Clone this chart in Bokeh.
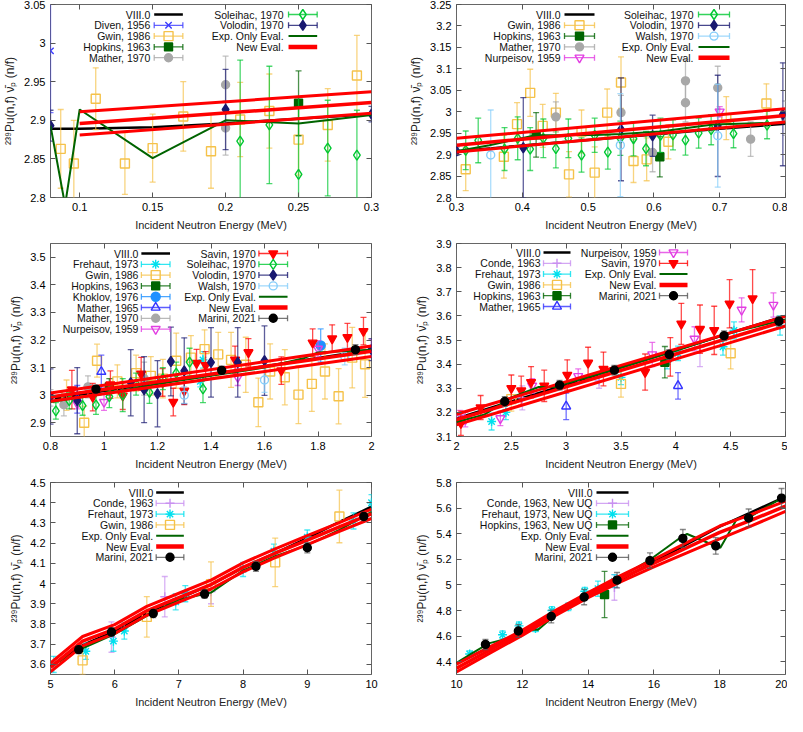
from bokeh.plotting import figure
from bokeh.models import Range1d, FixedTicker, LinearAxis, NumeralTickFormatter
from bokeh.core.properties import value
from bokeh.layouts import gridplot
from bokeh.embed import file_html
from bokeh.resources import INLINE

# ====================== DATA ======================
# ---- Panel 1: 0.08 - 0.3 MeV
p1_xticks = [0.1, 0.15, 0.2, 0.25, 0.3]
p1_xlabels = ["0.1", "0.15", "0.2", "0.25", "0.3"]
p1_yticks = [2.8, 2.85, 2.9, 2.95, 3.0, 3.05]
p1_ylabels = ["2.8", "2.85", "2.9", "2.95", "3", "3.05"]
p1_viii_x = [0.08, 0.10, 0.15, 0.20, 0.25, 0.30]
p1_viii_y = [2.889, 2.889, 2.891, 2.896, 2.902, 2.908]
p1_exp_x = [0.08, 0.09, 0.10, 0.15, 0.20, 0.25, 0.30]
p1_exp_y = [2.893, 2.790, 2.914, 2.851, 2.900, 2.896, 2.907]
p1_new_x = [0.10, 0.30]
p1_new_y = [2.896, 2.923]
p1_new_hi = [2.911, 2.937]
p1_new_lo = [2.881, 2.909]
p1_diven_x = [0.08]
p1_diven_y = [2.99]
p1_diven_e = [0.08]
p1_gwin_x = [0.087, 0.096, 0.111, 0.131, 0.150, 0.171, 0.190, 0.210, 0.230, 0.250, 0.270, 0.290]
p1_gwin_y = [2.863, 2.844, 2.928, 2.844, 2.864, 2.905, 2.860, 2.901, 2.912, 2.875, 2.894, 2.958]
p1_gwin_e = [0.051, 0.056, 0.040, 0.040, 0.044, 0.045, 0.048, 0.048, 0.048, 0.046, 0.047, 0.052]
p1_hop_x = [0.25]
p1_hop_y = [2.922]
p1_hop_e = [0.042]
p1_mat70_x = [0.2, 0.2]
p1_mat70_y = [2.946, 2.890]
p1_mat70_e = [0.037, 0.035]
p1_sol_x = [0.21, 0.23, 0.25, 0.27, 0.29]
p1_sol_y = [2.873, 2.894, 2.830, 2.864, 2.855]
p1_sol_e = [0.105, 0.076, 0.100, 0.062, 0.058]
p1_vol_x = [0.08, 0.2, 0.3]
p1_vol_y = [2.893, 2.914, 2.908]
p1_vol_e = [0.02, 0.052, 0.01]

# ---- Panel 2: 0.3 - 0.8 MeV
p2_xticks = [0.3, 0.4, 0.5, 0.6, 0.7, 0.8]
p2_xlabels = ["0.3", "0.4", "0.5", "0.6", "0.7", "0.8"]
p2_yticks = [2.8, 2.85, 2.9, 2.95, 3.0, 3.05, 3.1, 3.15, 3.2, 3.25]
p2_ylabels = ["2.8", "2.85", "2.9", "2.95", "3", "3.05", "3.1", "3.15", "3.2", "3.25"]
p2_viii_x = [0.3, 0.4, 0.5, 0.6, 0.7, 0.8]
p2_viii_y = [2.908, 2.921, 2.934, 2.947, 2.960, 2.972]
p2_exp_x = [0.3, 0.35, 0.42, 0.51, 0.55, 0.61, 0.69, 0.8]
p2_exp_y = [2.908, 2.922, 2.945, 2.946, 2.948, 2.954, 2.970, 2.975]
p2_new_x = [0.3, 0.8]
p2_new_y = [2.922, 2.991]
p2_new_hi = [2.938, 3.007]
p2_new_lo = [2.906, 2.976]
p2_gwin_x = [0.314, 0.372, 0.392, 0.412, 0.431, 0.451, 0.471, 0.490, 0.510, 0.529, 0.550, 0.569, 0.589, 0.622, 0.710, 0.771]
p2_gwin_y = [2.866, 2.895, 2.971, 3.044, 2.967, 2.998, 2.854, 2.954, 2.858, 2.998, 3.068, 2.885, 2.889, 2.930, 2.985, 3.019]
p2_gwin_e = [0.050, 0.050, 0.050, 0.055, 0.050, 0.045, 0.053, 0.050, 0.060, 0.055, 0.060, 0.050, 0.050, 0.040, 0.050, 0.046]
p2_hop_x = [0.421, 0.609]
p2_hop_y = [2.946, 2.895]
p2_hop_e = [0.052, 0.047]
p2_mat70_x = [0.451, 0.55, 0.598, 0.648, 0.648, 0.697, 0.747, 0.8]
p2_mat70_y = [2.988, 2.998, 2.905, 3.072, 3.021, 3.056, 2.936, 2.985]
p2_mat70_e = [0.035, 0.040, 0.045, 0.050, 0.045, 0.050, 0.040, 0.040]
p2_nur_x = [0.7]
p2_nur_y = [3.0]
p2_nur_e = [0.012]
p2_sol_x = [0.314, 0.333, 0.373, 0.393, 0.412, 0.432, 0.451, 0.470, 0.490, 0.510, 0.530, 0.549, 0.569, 0.588, 0.610, 0.629, 0.648, 0.668, 0.687, 0.721, 0.772]
p2_sol_y = [2.910, 2.933, 2.913, 2.938, 2.913, 2.938, 2.914, 2.938, 2.899, 2.945, 2.906, 2.938, 2.937, 2.914, 2.945, 2.946, 2.934, 2.950, 2.958, 2.949, 2.969]
p2_sol_e = [0.045, 0.052, 0.050, 0.050, 0.050, 0.045, 0.045, 0.045, 0.040, 0.040, 0.040, 0.040, 0.040, 0.040, 0.040, 0.035, 0.035, 0.035, 0.035, 0.033, 0.032]
p2_vol_x = [0.3, 0.4015, 0.55, 0.598, 0.697, 0.796]
p2_vol_y = [2.908, 2.916, 2.959, 2.944, 2.967, 2.994]
p2_vol_e = [0.01, 0.117, 0.12, 0.048, 0.118, 0.12]
p2_wal_x = [0.352, 0.549, 0.697]
p2_wal_y = [2.899, 2.922, 2.944]
p2_wal_e = [0.105, 0.12, 0.12]

# ---- Panel 3: 0.8 - 2 MeV
p3_xticks = [0.8, 1.0, 1.2, 1.4, 1.6, 1.8, 2.0]
p3_xlabels = ["0.8", "1", "1.2", "1.4", "1.6", "1.8", "2"]
p3_yticks = [2.9, 3.0, 3.1, 3.2, 3.3, 3.4, 3.5]
p3_ylabels = ["2.9", "3", "3.1", "3.2", "3.3", "3.4", "3.5"]
p3_viii_x = [0.8, 1.0, 1.2, 1.4, 1.6, 1.8, 2.0]
p3_viii_y = [2.985, 3.015, 3.045, 3.075, 3.105, 3.135, 3.165]
p3_exp_x = [0.8, 1.0, 1.2, 1.4, 1.6, 1.75, 1.8, 2.0]
p3_exp_y = [2.975, 3.005, 3.040, 3.070, 3.100, 3.135, 3.155, 3.165]
p3_new_x = [0.8, 2.0]
p3_new_y = [2.993, 3.159]
p3_new_hi = [3.008, 3.178]
p3_new_lo = [2.978, 3.140]
p3_fre_x = [1.36, 1.37]
p3_fre_y = [3.05, 3.128]
p3_fre_e = [0.02, 0.03]
p3_gwin_x = [0.86, 0.926, 0.974, 1.05, 1.12, 1.175, 1.22, 1.27, 1.325, 1.376, 1.427, 1.475, 1.53, 1.577, 1.621, 1.676, 1.727, 1.777, 1.826, 1.877, 1.928, 1.976]
p3_gwin_y = [3.0, 2.9, 3.125, 3.05, 3.08, 3.07, 3.06, 3.125, 3.136, 3.167, 3.148, 3.128, 3.11, 2.974, 3.086, 3.065, 3.002, 3.041, 3.086, 2.996, 3.136, 3.112]
p3_gwin_e = [0.055, 0.06, 0.06, 0.06, 0.065, 0.07, 0.07, 0.1, 0.08, 0.07, 0.08, 0.1, 0.1, 0.088, 0.1, 0.1, 0.105, 0.1, 0.1, 0.1, 0.11, 0.12]
p3_hop_x = [1.02]
p3_hop_y = [3.03]
p3_hop_e = [0.03]
p3_kho_x = [1.81]
p3_kho_y = [3.18]
p3_kho_e = [0.06]
p3_mat65_x = [0.9, 0.99]
p3_mat65_y = [2.985, 3.085]
p3_mat65_e = [0.05, 0.06]
p3_mat70_x = [0.8, 0.85, 0.94, 1.15]
p3_mat70_y = [2.99, 2.965, 3.03, 3.06]
p3_mat70_e = [0.03, 0.04, 0.04, 0.06]
p3_nur_x = [0.9, 1.0, 1.5, 1.8, 2.0]
p3_nur_y = [2.97, 2.975, 3.065, 3.168, 3.17]
p3_nur_e = [0.02, 0.03, 0.03, 0.03, 0.03]
p3_sav_x = [0.88, 0.958, 1.024, 1.07, 1.139, 1.219, 1.259, 1.30, 1.346, 1.38, 1.49, 1.54, 1.663, 1.78, 1.853, 1.91, 1.97]
p3_sav_y = [3.02, 2.993, 3.038, 2.998, 3.077, 3.046, 2.975, 3.016, 3.116, 3.108, 3.128, 3.155, 3.089, 3.19, 3.205, 3.21, 3.232]
p3_sav_e = [0.07, 0.05, 0.05, 0.05, 0.06, 0.05, 0.05, 0.05, 0.05, 0.05, 0.05, 0.05, 0.05, 0.05, 0.05, 0.05, 0.05]
p3_sol_x = [0.82, 0.87, 0.92, 0.97, 1.02, 1.07, 1.12, 1.17, 1.22, 1.27, 1.32, 1.37]
p3_sol_y = [2.943, 2.98, 2.962, 2.965, 2.995, 3.0, 3.04, 3.01, 3.06, 3.08, 3.12, 3.023]
p3_sol_e = [0.03, 0.03, 0.035, 0.035, 0.04, 0.06, 0.04, 0.04, 0.04, 0.04, 0.05, 0.05]
p3_vol_x = [0.8, 0.9, 1.1, 1.15, 1.2, 1.25, 1.3, 1.4, 1.5, 1.6, 2.0]
p3_vol_y = [2.995, 2.98, 3.045, 3.02, 3.005, 3.122, 3.088, 3.119, 3.119, 3.125, 3.165]
p3_vol_e = [0.1, 0.12, 0.12, 0.12, 0.12, 0.125, 0.12, 0.126, 0.126, 0.126, 0.04]
p3_wal_x = [1.3, 1.6, 1.9]
p3_wal_y = [3.0, 3.055, 3.14]
p3_wal_e = [0.03, 0.045, 0.03]
p3_mar_x = [0.97, 1.44, 1.94]
p3_mar_y = [3.022, 3.09, 3.165]
p3_mar_e = [0.013, 0.015, 0.018]

# ---- Panel 4: 2 - 5 MeV
p4_xticks = [2.0, 2.5, 3.0, 3.5, 4.0, 4.5, 5.0]
p4_xlabels = ["2", "2.5", "3", "3.5", "4", "4.5", "5"]
p4_yticks = [3.1, 3.2, 3.3, 3.4, 3.5, 3.6, 3.7, 3.8, 3.9]
p4_ylabels = ["3.1", "3.2", "3.3", "3.4", "3.5", "3.6", "3.7", "3.8", "3.9"]
p4_viii_x = [2.0, 2.5, 3.0, 3.5, 4.0, 4.5, 5.0]
p4_viii_y = [3.175, 3.245, 3.315, 3.387, 3.458, 3.53, 3.6]
p4_exp_x = [2.0, 2.25, 2.5, 2.75, 2.9, 3.0, 3.5, 4.0, 4.5, 5.0]
p4_exp_y = [3.16, 3.19, 3.262, 3.305, 3.305, 3.32, 3.385, 3.455, 3.53, 3.585]
p4_new_x = [2.0, 5.0]
p4_new_y = [3.17, 3.578]
p4_new_hi = [3.192, 3.598]
p4_new_lo = [3.148, 3.558]
p4_con_x = [2.6, 3.3, 4.22]
p4_con_y = [3.26, 3.33, 3.47]
p4_con_e = [0.05, 0.03, 0.08]
p4_fre_x = [2.32, 2.45, 3.5, 3.92, 4.02, 4.43, 4.53, 4.95]
p4_fre_y = [3.162, 3.2, 3.345, 3.41, 3.445, 3.472, 3.54, 3.56]
p4_fre_e = [0.035, 0.03, 0.03, 0.03, 0.03, 0.035, 0.035, 0.04]
p4_gwin_x = [2.5, 3.5, 4.5]
p4_gwin_y = [3.255, 3.318, 3.445]
p4_gwin_e = [0.05, 0.055, 0.065]
p4_hop_x = [3.9]
p4_hop_y = [3.408]
p4_hop_e = [0.065]
p4_mat65_x = [3.0, 4.02]
p4_mat65_y = [3.225, 3.31]
p4_mat65_e = [0.055, 0.055]
p4_nur_x = [2.03, 2.08, 2.4, 2.69, 3.11, 3.785, 4.17, 4.6, 4.89]
p4_nur_y = [3.178, 3.17, 3.175, 3.31, 3.35, 3.44, 3.505, 3.625, 3.645]
p4_nur_e = [0.03, 0.03, 0.03, 0.03, 0.03, 0.05, 0.05, 0.05, 0.05]
p4_sav_x = [2.04, 2.22, 2.5, 2.59, 2.68, 2.8, 3.01, 3.2, 3.34, 3.72, 3.95, 4.05, 4.22, 4.35, 4.49, 4.7]
p4_sav_y = [3.155, 3.22, 3.3, 3.29, 3.325, 3.31, 3.355, 3.405, 3.38, 3.367, 3.43, 3.567, 3.545, 3.54, 3.65, 3.672]
p4_sav_e = [0.05, 0.05, 0.055, 0.06, 0.065, 0.065, 0.063, 0.065, 0.07, 0.075, 0.08, 0.085, 0.1, 0.1, 0.1, 0.12]
p4_mar_x = [2.44, 2.94, 3.44, 3.94, 4.44, 4.94]
p4_mar_y = [3.245, 3.313, 3.375, 3.44, 3.518, 3.578]
p4_mar_e = [0.02, 0.02, 0.02, 0.02, 0.02, 0.02]

# ---- Panel 5: 5 - 10 MeV
p5_xticks = [5, 6, 7, 8, 9, 10]
p5_xlabels = ["5", "6", "7", "8", "9", "10"]
p5_yticks = [3.6, 3.7, 3.8, 3.9, 4.0, 4.1, 4.2, 4.3, 4.4, 4.5]
p5_ylabels = ["3.6", "3.7", "3.8", "3.9", "4", "4.1", "4.2", "4.3", "4.4", "4.5"]
p5_viii_x = [5, 5.5, 6, 6.5, 7, 7.5, 8, 8.5, 9, 9.5, 10]
p5_viii_y = [3.59, 3.695, 3.765, 3.855, 3.925, 3.995, 4.08, 4.15, 4.225, 4.305, 4.38]
p5_exp_x = [5, 5.5, 6, 6.5, 7, 7.5, 8, 8.5, 9, 9.5, 10]
p5_exp_y = [3.59, 3.68, 3.75, 3.84, 3.92, 3.955, 4.065, 4.135, 4.19, 4.265, 4.355]
p5_new_x = [5, 5.5, 6, 6.5, 7, 7.5, 8, 8.5, 9, 9.5, 10]
p5_new_y = [3.585, 3.715, 3.775, 3.865, 3.93, 3.995, 4.08, 4.15, 4.215, 4.28, 4.345]
p5_new_hi = [3.607, 3.738, 3.797, 3.887, 3.952, 4.017, 4.102, 4.172, 4.237, 4.302, 4.368]
p5_new_lo = [3.563, 3.692, 3.753, 3.843, 3.908, 3.973, 4.058, 4.128, 4.193, 4.258, 4.322]
p5_con_x = [5.95, 6.78, 7.5]
p5_con_y = [3.735, 3.935, 3.96]
p5_con_e = [0.075, 0.1, 0.06]
p5_fre_x = [5.05, 5.55, 5.98, 6.15, 6.95, 7.1, 8.0, 8.48, 9.0, 9.72, 10.0]
p5_fre_y = [3.6, 3.665, 3.715, 3.765, 3.91, 3.95, 4.07, 4.16, 4.23, 4.31, 4.4]
p5_fre_e = [0.04, 0.04, 0.05, 0.04, 0.04, 0.04, 0.035, 0.035, 0.035, 0.04, 0.04]
p5_gwin_x = [5.5, 6.5, 7.5, 8.5, 9.5]
p5_gwin_y = [3.62, 3.835, 3.997, 4.105, 4.332]
p5_gwin_e = [0.07, 0.1, 0.11, 0.12, 0.13]
p5_mar_x = [5.44, 5.95, 6.6, 7.4, 8.2, 9.0, 9.88]
p5_mar_y = [3.673, 3.76, 3.852, 3.948, 4.085, 4.177, 4.332]
p5_mar_e = [0.02, 0.02, 0.02, 0.02, 0.025, 0.025, 0.02]

# ---- Panel 6: 10 - 20 MeV
p6_xticks = [10, 12, 14, 16, 18, 20]
p6_xlabels = ["10", "12", "14", "16", "18", "20"]
p6_yticks = [4.4, 4.6, 4.8, 5.0, 5.2, 5.4, 5.6, 5.8]
p6_ylabels = ["4.4", "4.6", "4.8", "5", "5.2", "5.4", "5.6", "5.8"]
p6_viii_x = [10, 12, 14, 16, 18, 20]
p6_viii_y = [4.385, 4.64, 4.905, 5.18, 5.455, 5.69]
p6_exp_x = [10, 10.47, 10.98, 11.53, 12.08, 12.48, 12.99, 13.54, 13.99, 14.5, 14.9, 15.9, 16.81, 17.01, 17.82, 18.02, 18.52, 18.97, 20]
p6_exp_y = [4.39, 4.465, 4.543, 4.58, 4.65, 4.65, 4.763, 4.84, 4.905, 4.957, 5.048, 5.2, 5.37, 5.398, 5.31, 5.29, 5.515, 5.54, 5.696]
p6_new_x = [10, 11, 12, 13, 14, 15, 16, 17, 18, 19, 20]
p6_new_y = [4.35, 4.49, 4.625, 4.78, 4.92, 5.05, 5.17, 5.29, 5.41, 5.51, 5.615]
p6_new_hi = [4.38, 4.515, 4.645, 4.80, 4.94, 5.075, 5.20, 5.33, 5.46, 5.555, 5.655]
p6_new_lo = [4.32, 4.465, 4.605, 4.76, 4.90, 5.025, 5.14, 5.25, 5.36, 5.465, 5.575]
p6_con_x = [14.8]
p6_con_y = [4.98]
p6_con_e = [0.1]
p6_fre_x = [10.4, 11.4, 11.9, 12.4, 12.9, 13.4, 13.9, 14.3, 14.8]
p6_fre_y = [4.46, 4.61, 4.68, 4.66, 4.80, 4.83, 4.95, 4.97, 5.03]
p6_fre_e = [0.025, 0.03, 0.03, 0.025, 0.03, 0.03, 0.03, 0.06, 0.05]
p6_hop_x = [14.5]
p6_hop_y = [4.925]
p6_hop_e = [0.18]
p6_mar_x = [10.88, 11.88, 12.88, 13.88, 14.88, 15.88, 16.88, 17.88, 18.88, 19.88]
p6_mar_y = [4.535, 4.64, 4.753, 4.905, 5.037, 5.19, 5.363, 5.305, 5.523, 5.678]
p6_mar_e = [0.04, 0.05, 0.05, 0.06, 0.06, 0.06, 0.07, 0.065, 0.07, 0.075]

# ====================== STYLE ======================
FONT = "Liberation Sans"
XLABEL = "Incident Neutron Energy (MeV)"
YLABEL = "\u00b2\u00b3\u2079Pu(n,f) \u03bd\u0304\u209a (n/f)"
HEIGHTS = [239, 239, 238]
WIDTHS = [393, 394]
BORDERS = [(46, 22), (63, 2)]
TOP, BOTTOM = 4, 42
ROW = 10.8

STYLE = {
    "Diven": dict(color="#3c3cff", marker="x", fill=False, size=9),
    "Gwin": dict(color="#f5c24a", marker="square", fill=False, size=9),
    "Hopkins": dict(color="#006400", marker="square", fill=True, size=8),
    "Mather70": dict(color="#a8a8a8", marker="circle", fill=True, size=8),
    "Soleihac": dict(color="#00c832", marker="diamond", fill=False, size=10),
    "Volodin": dict(color="#191970", marker="diamond", fill=True, size=10),
    "Walsh": dict(color="#87cefa", marker="circle", fill=False, size=8),
    "Nurpeisov": dict(color="#e23ee2", marker="inverted_triangle", fill=False, size=9),
    "Frehaut": dict(color="#00e0ee", marker="asterisk", fill=False, size=9),
    "Khoklov": dict(color="#1e90ff", marker="circle", fill=True, size=9),
    "Mather65": dict(color="#3535ff", marker="triangle", fill=False, size=9),
    "Savin": dict(color="#ff0000", marker="inverted_triangle", fill=True, size=9),
    "Conde": dict(color="#c890f0", marker="cross", fill=False, size=9),
    "Marini": dict(color="#000000", marker="circle", fill=True, size=8, ebar="#555555"),
}
GEO = {}


def new_fig(row, col, xr, yr, xt, xl, yt, yl):
    left, right = BORDERS[col]
    h = HEIGHTS[row]
    p = figure(width=WIDTHS[col], height=h, x_range=Range1d(*xr), y_range=Range1d(*yr),
               output_backend="svg", toolbar_location=None,
               min_border_left=left, min_border_right=right,
               min_border_top=TOP, min_border_bottom=BOTTOM)
    GEO[p.id] = (xr[0], xr[1], yr[0], yr[1], WIDTHS[col] - left - right, h - TOP - BOTTOM)
    p.grid.visible = False
    p.outline_line_color = "#666666"
    p.outline_line_width = 1
    p.xaxis.ticker = FixedTicker(ticks=xt)
    p.yaxis.ticker = FixedTicker(ticks=yt)
    p.xaxis.formatter = NumeralTickFormatter(format="0.[00]")
    p.yaxis.formatter = NumeralTickFormatter(format="0.[00]")
    p.xaxis.major_label_overrides = {t: s for t, s in zip(xt, xl)}
    p.yaxis.major_label_overrides = {t: s for t, s in zip(yt, yl)}
    p.xaxis.axis_label = XLABEL
    p.yaxis.axis_label = YLABEL
    for ax in p.xaxis + p.yaxis:
        ax.major_tick_in = 5
        ax.major_tick_out = 0
        ax.minor_tick_line_color = None
        ax.axis_line_color = None
        ax.major_tick_line_color = "#555555"
        ax.major_label_text_font = FONT
        ax.major_label_text_font_size = "11px"
        ax.major_label_text_color = "black"
        ax.major_label_standoff = 5
        ax.axis_label_text_font = FONT
        ax.axis_label_text_font_style = "normal"
        ax.axis_label_text_color = "#222222"
        ax.axis_label_standoff = 5
    p.xaxis.axis_label_text_font_size = "11px"
    p.yaxis.axis_label_text_font_size = "12px"
    p.yaxis.axis_label_standoff = 4
    for place, ticks in (("above", xt), ("right", yt)):
        ax = LinearAxis(ticker=FixedTicker(ticks=ticks), major_label_text_font_size="1px",
                        major_label_text_color=None, major_label_text_alpha=0,
                        major_label_standoff=0, major_tick_in=5, major_tick_out=0,
                        minor_tick_line_color=None, axis_line_color=None,
                        major_tick_line_color="#555555")
        p.add_layout(ax, place)
    return p


def add_line(p, label, xs, ys, color, width):
    p.line(xs, ys, line_color=color, line_width=width)
    return dict(label=label, kind="line", color=color, width=width)


def add_new(p, xs, ys, hi, lo):
    p.line(xs, hi, line_color="#ff0000", line_width=3)
    p.line(xs, lo, line_color="#ff0000", line_width=3)
    p.line(xs, ys, line_color="#ff0000", line_width=3.5)
    return dict(label="New Eval.", kind="line", color="#ff0000", width=4.5)


def draw_marker(p, st, xs, ys):
    p.scatter(xs, ys, marker=st["marker"], size=st["size"], line_color=st["color"],
              fill_color=st["color"] if st["fill"] else None, line_width=1.4)


def add_pts(p, label, key, xs, ys, es):
    st = STYLE[key]
    ec = st.get("ebar", st["color"])
    lo = [y - e for y, e in zip(ys, es)]
    hi = [y + e for y, e in zip(ys, es)]
    p.segment(x0=xs, y0=lo, x1=xs, y1=hi, line_color=ec, line_width=1.3, line_alpha=0.7)
    p.scatter(xs, lo, marker="dash", size=6, line_color=ec, line_width=1.3, line_alpha=0.7)
    p.scatter(xs, hi, marker="dash", size=6, line_color=ec, line_width=1.3, line_alpha=0.7)
    draw_marker(p, st, xs, ys)
    return dict(label=label, kind="pts", key=key)


def add_key(p, entries, r_px, s0_px, s1_px, top_px):
    """gnuplot-style key: right-aligned label followed by a sample."""
    x0, x1, y0, y1, fw, fh = GEO[p.id]
    def X(px):
        return x0 + px / fw * (x1 - x0)
    def Y(py):
        return y1 - py / fh * (y1 - y0)
    xr, xa, xb = X(r_px), X(s0_px), X(s1_px)
    for i, e in enumerate(entries):
        py = top_px + i * ROW
        yc = Y(py)
        p.text(x=[xr], y=[yc], text=[e["label"]], text_align="right", text_baseline="middle",
               text_font=value(FONT), text_font_size="10.5px", text_color="#111111")
        if e["kind"] == "line":
            p.line([xa, xb], [yc, yc], line_color=e["color"], line_width=e["width"])
        else:
            st = STYLE[e["key"]]
            ec = st.get("ebar", st["color"])
            p.segment(x0=[xa], y0=[yc], x1=[xb], y1=[yc], line_color=ec, line_width=1.3, line_alpha=0.8)
            p.segment(x0=[xa, xb], y0=[Y(py - 3)] * 2, x1=[xa, xb], y1=[Y(py + 3)] * 2,
                      line_color=ec, line_width=1.3, line_alpha=0.8)
            draw_marker(p, st, [(xa + xb) / 2], [yc])


# ---------------- Panel 1
p1 = new_fig(0, 0, (0.08, 0.3), (2.8, 3.05), p1_xticks, p1_xlabels, p1_yticks, p1_ylabels)
i_viii = add_line(p1, "VIII.0", p1_viii_x, p1_viii_y, "black", 2.5)
i_div = add_pts(p1, "Diven, 1956", "Diven", p1_diven_x, p1_diven_y, p1_diven_e)
i_gw = add_pts(p1, "Gwin, 1986", "Gwin", p1_gwin_x, p1_gwin_y, p1_gwin_e)
i_hop = add_pts(p1, "Hopkins, 1963", "Hopkins", p1_hop_x, p1_hop_y, p1_hop_e)
i_m70 = add_pts(p1, "Mather, 1970", "Mather70", p1_mat70_x, p1_mat70_y, p1_mat70_e)
i_sol = add_pts(p1, "Soleihac, 1970", "Soleihac", p1_sol_x, p1_sol_y, p1_sol_e)
i_vol = add_pts(p1, "Volodin, 1970", "Volodin", p1_vol_x, p1_vol_y, p1_vol_e)
i_exp = add_line(p1, "Exp. Only Eval.", p1_exp_x, p1_exp_y, "#006400", 2)
i_new = add_new(p1, p1_new_x, p1_new_y, p1_new_hi, p1_new_lo)
add_key(p1, [i_viii, i_div, i_gw, i_hop, i_m70], 101, 105, 134, 10)
add_key(p1, [i_sol, i_vol, i_exp, i_new], 236, 241, 270, 10)

# ---------------- Panel 2
p2 = new_fig(0, 1, (0.3, 0.8), (2.8, 3.25), p2_xticks, p2_xlabels, p2_yticks, p2_ylabels)
i_viii = add_line(p2, "VIII.0", p2_viii_x, p2_viii_y, "black", 2.5)
i_gw = add_pts(p2, "Gwin, 1986", "Gwin", p2_gwin_x, p2_gwin_y, p2_gwin_e)
i_hop = add_pts(p2, "Hopkins, 1963", "Hopkins", p2_hop_x, p2_hop_y, p2_hop_e)
i_m70 = add_pts(p2, "Mather, 1970", "Mather70", p2_mat70_x, p2_mat70_y, p2_mat70_e)
i_nur = add_pts(p2, "Nurpeisov, 1959", "Nurpeisov", p2_nur_x, p2_nur_y, p2_nur_e)
i_sol = add_pts(p2, "Soleihac, 1970", "Soleihac", p2_sol_x, p2_sol_y, p2_sol_e)
i_vol = add_pts(p2, "Volodin, 1970", "Volodin", p2_vol_x, p2_vol_y, p2_vol_e)
i_wal = add_pts(p2, "Walsh, 1970", "Walsh", p2_wal_x, p2_wal_y, p2_wal_e)
i_exp = add_line(p2, "Exp. Only Eval.", p2_exp_x, p2_exp_y, "#006400", 2)
i_new = add_new(p2, p2_new_x, p2_new_y, p2_new_hi, p2_new_lo)
add_key(p2, [i_viii, i_gw, i_hop, i_m70, i_nur], 104, 108, 138, 10)
add_key(p2, [i_sol, i_vol, i_wal, i_exp, i_new], 237, 242, 273, 10)

# ---------------- Panel 3
p3 = new_fig(1, 0, (0.8, 2.0), (2.85, 3.55), p3_xticks, p3_xlabels, p3_yticks, p3_ylabels)
i_viii = add_line(p3, "VIII.0", p3_viii_x, p3_viii_y, "black", 2.5)
i_fre = add_pts(p3, "Frehaut, 1973", "Frehaut", p3_fre_x, p3_fre_y, p3_fre_e)
i_gw = add_pts(p3, "Gwin, 1986", "Gwin", p3_gwin_x, p3_gwin_y, p3_gwin_e)
i_hop = add_pts(p3, "Hopkins, 1963", "Hopkins", p3_hop_x, p3_hop_y, p3_hop_e)
i_kho = add_pts(p3, "Khoklov, 1976", "Khoklov", p3_kho_x, p3_kho_y, p3_kho_e)
i_m65 = add_pts(p3, "Mather, 1965", "Mather65", p3_mat65_x, p3_mat65_y, p3_mat65_e)
i_m70 = add_pts(p3, "Mather, 1970", "Mather70", p3_mat70_x, p3_mat70_y, p3_mat70_e)
i_nur = add_pts(p3, "Nurpeisov, 1959", "Nurpeisov", p3_nur_x, p3_nur_y, p3_nur_e)
i_sav = add_pts(p3, "Savin, 1970", "Savin", p3_sav_x, p3_sav_y, p3_sav_e)
i_sol = add_pts(p3, "Soleihac, 1970", "Soleihac", p3_sol_x, p3_sol_y, p3_sol_e)
i_vol = add_pts(p3, "Volodin, 1970", "Volodin", p3_vol_x, p3_vol_y, p3_vol_e)
i_wal = add_pts(p3, "Walsh, 1970", "Walsh", p3_wal_x, p3_wal_y, p3_wal_e)
i_exp = add_line(p3, "Exp. Only Eval.", p3_exp_x, p3_exp_y, "#006400", 2)
i_new = add_new(p3, p3_new_x, p3_new_y, p3_new_hi, p3_new_lo)
i_mar = add_pts(p3, "Marini, 2021", "Marini", p3_mar_x, p3_mar_y, p3_mar_e)
add_key(p3, [i_viii, i_fre, i_gw, i_hop, i_kho, i_m65, i_m70, i_nur], 89, 92, 121, 10)
add_key(p3, [i_sav, i_sol, i_vol, i_wal, i_exp, i_new, i_mar], 208, 211, 240, 10)

# ---------------- Panel 4
p4 = new_fig(1, 1, (2.0, 5.0), (3.1, 3.9), p4_xticks, p4_xlabels, p4_yticks, p4_ylabels)
i_viii = add_line(p4, "VIII.0", p4_viii_x, p4_viii_y, "black", 2.5)
i_con = add_pts(p4, "Conde, 1963", "Conde", p4_con_x, p4_con_y, p4_con_e)
i_fre = add_pts(p4, "Frehaut, 1973", "Frehaut", p4_fre_x, p4_fre_y, p4_fre_e)
i_gw = add_pts(p4, "Gwin, 1986", "Gwin", p4_gwin_x, p4_gwin_y, p4_gwin_e)
i_hop = add_pts(p4, "Hopkins, 1963", "Hopkins", p4_hop_x, p4_hop_y, p4_hop_e)
i_m65 = add_pts(p4, "Mather, 1965", "Mather65", p4_mat65_x, p4_mat65_y, p4_mat65_e)
i_nur = add_pts(p4, "Nurpeisov, 1959", "Nurpeisov", p4_nur_x, p4_nur_y, p4_nur_e)
i_sav = add_pts(p4, "Savin, 1970", "Savin", p4_sav_x, p4_sav_y, p4_sav_e)
i_exp = add_line(p4, "Exp. Only Eval.", p4_exp_x, p4_exp_y, "#006400", 2)
i_new = add_new(p4, p4_new_x, p4_new_y, p4_new_hi, p4_new_lo)
i_mar = add_pts(p4, "Marini, 2021", "Marini", p4_mar_x, p4_mar_y, p4_mar_e)
add_key(p4, [i_viii, i_con, i_fre, i_gw, i_hop, i_m65], 84, 87, 114, 9)
add_key(p4, [i_nur, i_sav, i_exp, i_new, i_mar], 200, 203, 231, 9)

# ---------------- Panel 5
p5 = new_fig(2, 0, (5, 10), (3.55, 4.5), p5_xticks, p5_xlabels, p5_yticks, p5_ylabels)
i_viii = add_line(p5, "VIII.0", p5_viii_x, p5_viii_y, "black", 2.5)
i_con = add_pts(p5, "Conde, 1963", "Conde", p5_con_x, p5_con_y, p5_con_e)
i_fre = add_pts(p5, "Frehaut, 1973", "Frehaut", p5_fre_x, p5_fre_y, p5_fre_e)
i_gw = add_pts(p5, "Gwin, 1986", "Gwin", p5_gwin_x, p5_gwin_y, p5_gwin_e)
i_exp = add_line(p5, "Exp. Only Eval.", p5_exp_x, p5_exp_y, "#006400", 2)
i_new = add_new(p5, p5_new_x, p5_new_y, p5_new_hi, p5_new_lo)
i_mar = add_pts(p5, "Marini, 2021", "Marini", p5_mar_x, p5_mar_y, p5_mar_e)
add_key(p5, [i_viii, i_con, i_fre, i_gw, i_exp, i_new, i_mar], 104, 107, 135, 10)

# ---------------- Panel 6
p6 = new_fig(2, 1, (10, 20), (4.3, 5.8), p6_xticks, p6_xlabels, p6_yticks, p6_ylabels)
i_viii = add_line(p6, "VIII.0", p6_viii_x, p6_viii_y, "black", 2.5)
i_con = add_pts(p6, "Conde, 1963, New UQ", "Conde", p6_con_x, p6_con_y, p6_con_e)
i_fre = add_pts(p6, "Frehaut, 1973, New UQ", "Frehaut", p6_fre_x, p6_fre_y, p6_fre_e)
i_hop = add_pts(p6, "Hopkins, 1963, New UQ", "Hopkins", p6_hop_x, p6_hop_y, p6_hop_e)
i_exp = add_line(p6, "Exp. Only Eval.", p6_exp_x, p6_exp_y, "#006400", 2)
i_new = add_new(p6, p6_new_x, p6_new_y, p6_new_hi, p6_new_lo)
i_mar = add_pts(p6, "Marini, 2021", "Marini", p6_mar_x, p6_mar_y, p6_mar_e)
add_key(p6, [i_viii, i_con, i_fre, i_hop, i_exp, i_new, i_mar], 136, 140, 172, 10)

grid = gridplot([[p1, p2], [p3, p4], [p5, p6]], toolbar_location=None)

with open("out.html", "w") as f:
    f.write(file_html(grid, INLINE))
